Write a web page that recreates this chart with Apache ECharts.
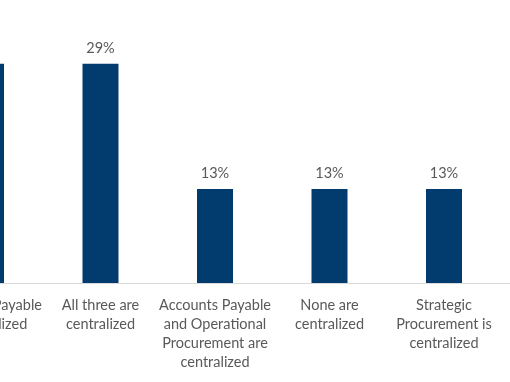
<!DOCTYPE html>
<html>
<head>
<meta charset="utf-8">
<script src="https://cdn.jsdelivr.net/npm/echarts@6/dist/echarts.min.js"></script>
<style>
html,body{margin:0;padding:0;background:#fff;}
#chart{width:510px;height:382px;}
</style>
</head>
<body>
<div id="chart"></div>
<script>
var categories = [
  'Accounts Payable\nis centralized',
  'All three are\ncentralized',
  'Accounts Payable\nand Operational\nProcurement are\ncentralized',
  'None are\ncentralized',
  'Strategic\nProcurement is\ncentralized'
];
var values = [29.17, 29.17, 12.5, 12.5, 12.5];

var chart = echarts.init(document.getElementById('chart'));
chart.setOption({
  animation: false,
  grid: { left: -71.25, top: 20, width: 687, height: 263, containLabel: false, outerBoundsMode: 'none' },
  xAxis: {
    type: 'category',
    data: categories,
    max: 5,
    axisLine: { lineStyle: { color: '#D9D9D9', width: 1 } },
    axisTick: { show: false },
    axisLabel: {
      interval: 0,
      margin: 13,
      color: '#595959',
      fontFamily: 'Lato',
      fontSize: 14.5,
      lineHeight: 19,
      formatter: function (v) { return v == null || v === 'undefined' ? '' : v; }
    }
  },
  yAxis: {
    type: 'value',
    min: 0, max: 35,
    show: false,
    splitLine: { show: false }
  },
  series: [{
    type: 'bar',
    data: values,
    barWidth: 36,
    itemStyle: { color: '#023B6E' },
    label: {
      show: true,
      position: 'top',
      distance: 8,
      color: '#595959',
      fontFamily: 'Lato',
      fontSize: 14.5,
      formatter: function (p) { return Math.round(p.value) + '%'; }
    }
  }]
});
</script>
</body>
</html>
